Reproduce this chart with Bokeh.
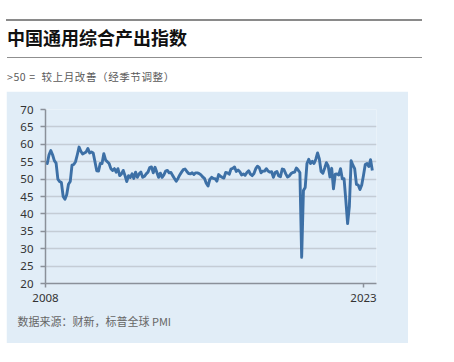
import numpy as np
from bokeh.plotting import figure
from bokeh.models import Range1d, FixedTicker, Title, Div, Spacer
from bokeh.layouts import column, row
from bokeh.embed import file_html
from bokeh.resources import INLINE

title_text = "中国通用综合产出指数"
subtitle_text = "&gt;50 =&nbsp;&nbsp;较上月改善（经季节调整）"
source_text = "数据来源：财新，标普全球 PMI"

start_year = 2008
pmi = [
    # 2008
    55.0, 54.5, 57.0, 58.2, 57.0, 55.3, 54.6, 50.0, 49.3, 49.0, 45.0, 44.2,
    # 2009
    45.5, 48.5, 49.3, 54.0, 54.2, 55.0, 57.0, 59.2, 58.0, 57.2, 57.5, 57.8,
    # 2010
    58.8, 57.5, 57.8, 57.5, 55.0, 52.4, 52.3, 54.5, 54.5, 57.3, 55.5, 55.0,
    # 2011
    54.5, 53.0, 52.5, 53.0, 52.0, 53.0, 51.0, 51.5, 52.5, 51.0, 49.3, 51.0,
    # 2012
    50.5, 51.5, 50.2, 52.0, 50.5, 51.5, 52.0, 50.5, 50.8, 51.5, 52.0, 53.3,
    # 2013
    53.5, 51.8, 53.4, 52.0, 50.5, 51.7, 50.5, 51.2, 52.3, 52.5, 51.8, 51.9,
    # 2014
    51.0, 50.2, 49.4, 50.2, 51.2, 52.0, 52.7, 52.9, 52.2, 51.6, 51.5, 51.8,
    # 2015
    51.3, 51.8, 51.8, 51.6, 51.2, 50.6, 50.2, 48.8, 48.0, 49.9, 50.5, 50.2,
    # 2016
    50.1, 49.4, 51.3, 50.8, 50.5, 50.3, 51.9, 51.8, 51.4, 52.9, 53.1, 53.5,
    # 2017
    52.2, 52.6, 52.1, 51.2, 51.5, 51.1, 51.9, 52.4, 51.4, 51.0, 51.6, 53.0,
    # 2018
    53.7, 53.3, 51.8, 52.3, 52.3, 53.0, 52.3, 52.0, 52.1, 50.5, 51.9, 52.2,
    # 2019
    50.9, 50.7, 52.9, 52.7, 51.5, 50.6, 50.9, 51.6, 51.9, 52.0, 53.2, 52.6,
    # 2020
    51.9, 27.5, 46.7, 47.6, 54.5, 55.7, 54.5, 55.1, 54.5, 55.7, 57.5, 55.8,
    # 2021
    52.2, 51.7, 53.1, 54.7, 53.8, 50.6, 53.1, 47.2, 51.4, 51.5, 51.2, 53.0,
    # 2022
    50.1, 50.1, 43.9, 37.2, 42.2, 55.3, 54.0, 53.0, 48.5, 48.3, 47.0, 48.3,
    # 2023
    51.1, 54.2, 54.5, 53.6, 55.6, 52.5,
]
x_ticks = [2008, 2023]
y_ticks = [20, 25, 30, 35, 40, 45, 50, 55, 60, 65, 70]

months = start_year + np.arange(len(pmi)) / 12.0

PANEL = "#e1edf7"
LINE = "#3d70a6"
CJK = "Noto Sans CJK SC"

header_html = f"""
<div style="position:relative; width:424px; height:91px; background:white; font-family:'{CJK}';">
  <div style="position:absolute; left:6px; top:19px; width:416px; height:2px; background:#8a8a8a;"></div>
  <div style="position:absolute; left:7px; top:28px; font-size:18px; line-height:18px; font-weight:bold; color:#111111; white-space:nowrap;">{title_text}</div>
  <div style="position:absolute; left:7px; top:57px; width:415px; height:1px; background:#8f8f8f;"></div>
  <div style="position:absolute; left:7px; top:72px; font-size:10.5px; line-height:10.5px; letter-spacing:0.6px; color:#5a5a5a; white-space:nowrap;">{subtitle_text}</div>
</div>
"""
header = Div(text=header_html, width=424, height=91, margin=0)

p = figure(width=402, height=252, x_range=Range1d(2008.0, 2008.0 + 331 / 21.2),
           y_range=Range1d(20, 70), toolbar_location=None, output_backend="svg",
           min_border_left=39, min_border_right=32, min_border_top=18, min_border_bottom=60,
           background_fill_color=PANEL, border_fill_color=PANEL)
p.outline_line_color = None

p.line(months, pmi, line_color=LINE, line_width=2.9, line_join="round")

p.xgrid.visible = False
p.ygrid.grid_line_color = "#c4ccd5"
p.ygrid.grid_line_width = 1.5
p.yaxis.ticker = FixedTicker(ticks=y_ticks)
p.xaxis.ticker = FixedTicker(ticks=x_ticks)
p.xaxis.major_label_overrides = {t: str(t) for t in x_ticks}
for ax in (p.xaxis, p.yaxis):
    ax.axis_line_color = "#8a9099"
    ax.axis_line_width = 1.5
    ax.major_tick_line_color = "#8a9099"
    ax.major_tick_line_width = 1.5
    ax.major_tick_in = 0
    ax.minor_tick_line_color = None
    ax.major_label_text_font = "Noto Sans"
    ax.major_label_text_font_size = "11.5px"
    ax.major_label_text_color = "#333333"
p.yaxis.major_tick_out = 5
p.yaxis.major_label_standoff = 7
p.xaxis.major_tick_out = 4
p.xaxis.major_label_standoff = 6

p.add_layout(Title(text=source_text, align="left", offset=-28, standoff=13,
                   text_font=CJK, text_font_style="normal", text_font_size="11px",
                   text_color="#666666"), "below")

layout = column(header, row(Spacer(width=6, height=252), p, spacing=0), spacing=0)
open("out.html", "w").write(file_html(layout, INLINE))
